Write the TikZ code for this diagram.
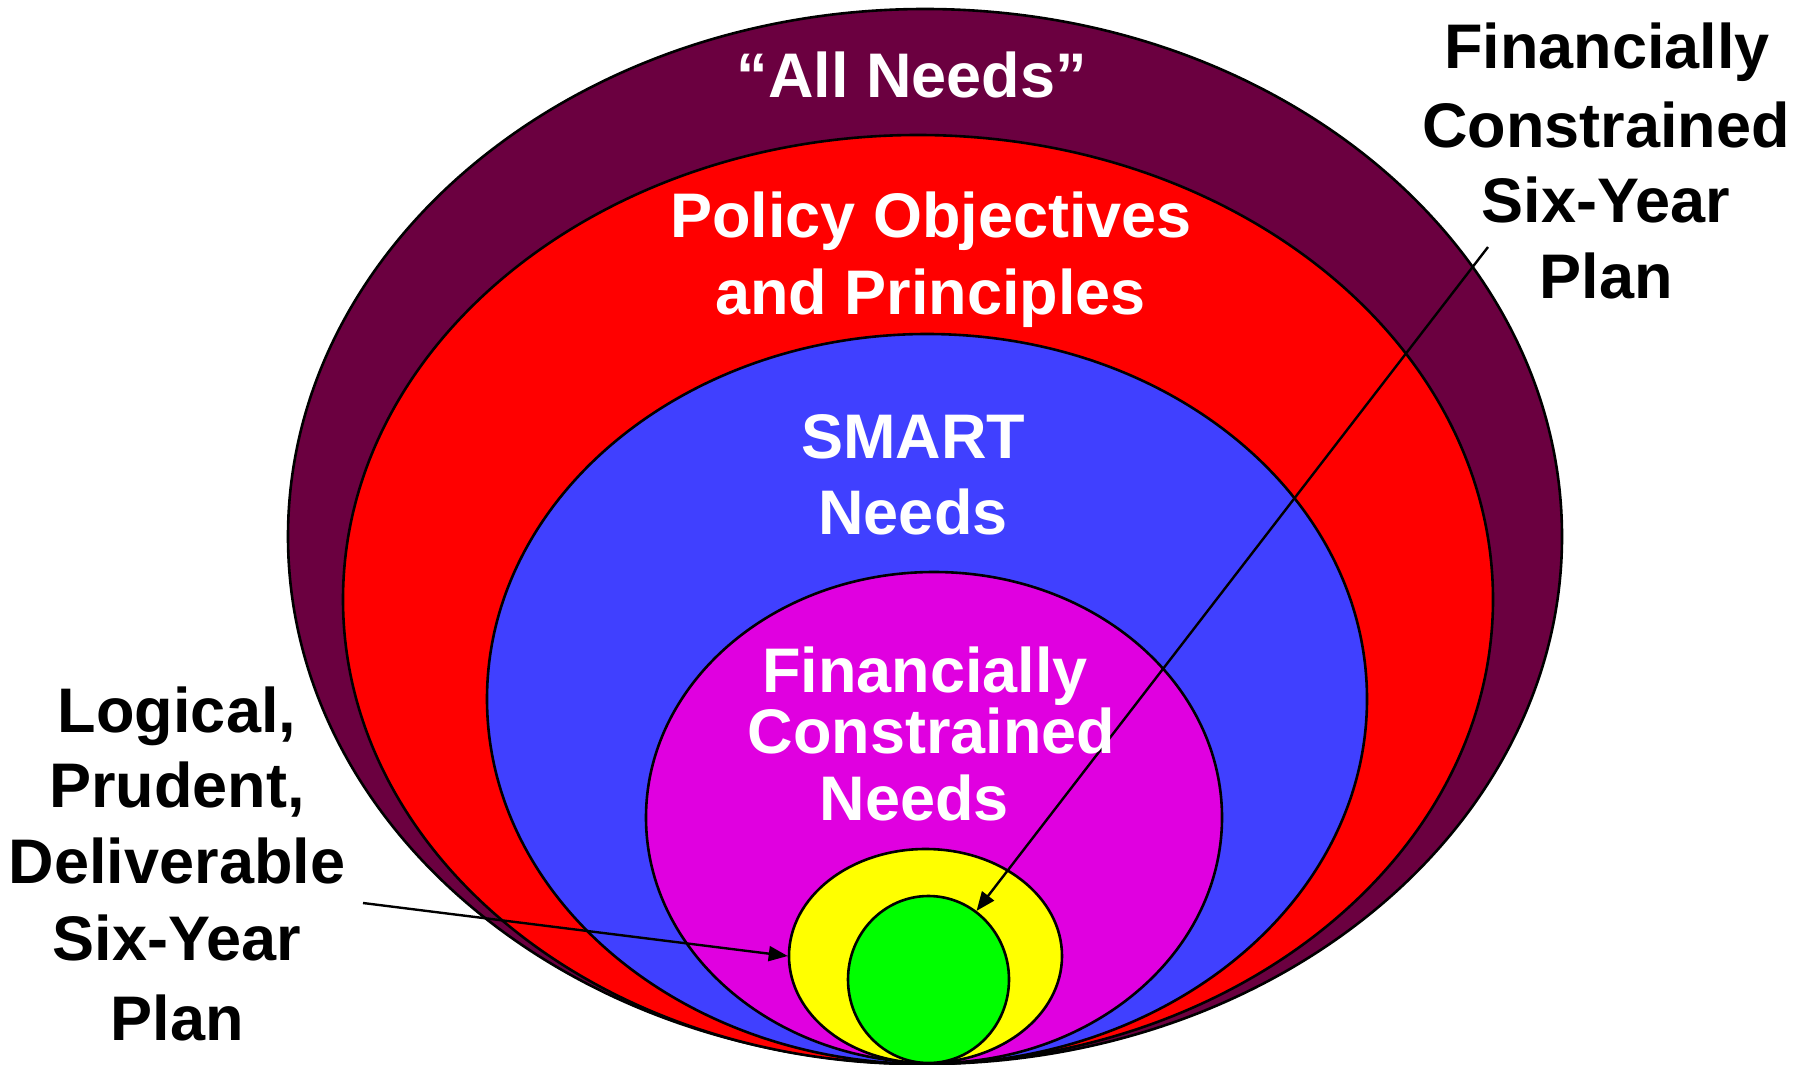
\documentclass[tikz,border=0pt]{standalone}
\usepackage{fontspec}
\setmainfont{Liberation Sans}
\usetikzlibrary{shapes.geometric,arrows.meta}
\definecolor{plum}{RGB}{107,0,64}
\definecolor{policyred}{RGB}{255,0,0}
\definecolor{smartblue}{RGB}{64,64,255}
\definecolor{fcmagenta}{RGB}{224,0,224}
\definecolor{planyellow}{RGB}{255,255,0}
\definecolor{plangreen}{RGB}{0,255,0}
\begin{document}
\begin{tikzpicture}[x=1pt,y=-1pt,
  ring/.style={ellipse, draw=black, line width=2.6pt, inner sep=0pt},
  lbl/.style={font=\bfseries\fontsize{63}{76}\selectfont, anchor=base, inner sep=0pt},
  wlbl/.style={lbl, text=white},
  pointer/.style={line width=2.4pt, -{Triangle[length=19pt,width=15pt]}}]
\useasboundingbox (0,0) rectangle (1812,1065);

% nested sets, outermost first
\node[ring, fill=plum,       minimum width=1274pt, minimum height=1055pt] (allneeds) at (925,536.5) {};
\node[ring, fill=policyred,  minimum width=1150pt, minimum height=929pt]  (policy)   at (918,599.5) {};
\node[ring, fill=smartblue,  minimum width=880pt,  minimum height=730pt]  (smart)    at (927,699)   {};
\node[ring, fill=fcmagenta,  minimum width=576pt,  minimum height=491pt]  (fcneeds)  at (934,817.5) {};
\node[ring, fill=planyellow, minimum width=273pt,  minimum height=214pt]  (lpdplan)  at (925.5,956) {};
\node[ring, fill=plangreen,  minimum width=161pt,  minimum height=167pt]  (fcplan)   at (928.5,979.5) {};

% pointers from the side labels
\coordinate (fcstart) at (1488,247);
\coordinate (lpdstart) at (363,903);
\draw[pointer] (fcstart) -- (fcplan.55);
\draw[pointer] (lpdstart) -- (lpdplan.west);

% labels inside the sets
\node[wlbl] (tAll)  at (912,97)    {“All Needs”};
\node[wlbl] (tPol1) at (931,237)   {Policy Objectives};
\node[wlbl] (tPol2) at (930.5,314) {and Principles};
\node[wlbl] (tSm1)  at (913,458)   {SMART};
\node[wlbl] (tSm2)  at (913,534)   {Needs};
\node[wlbl] (tFc1)  at (925,692)   {Financially};
\node[wlbl] (tFc2)  at (931.5,753) {Constrained};
\node[wlbl] (tFc3)  at (914.5,820) {Needs};

% side labels
\node[lbl] (tR1) at (1607,68)  {Financially};
\node[lbl] (tR2) at (1606,147) {Constrained};
\node[lbl] (tR3) at (1606,222) {Six-Year};
\node[lbl] (tR4) at (1606,298) {Plan};

\node[lbl] (tL1) at (177,732)  {Logical,};
\node[lbl] (tL2) at (177,807)  {Prudent,};
\node[lbl] (tL3) at (177,883)  {Deliverable};
\node[lbl] (tL4) at (177,960)  {Six-Year};
\node[lbl] (tL5) at (177,1040) {Plan};
\end{tikzpicture}
\end{document}
